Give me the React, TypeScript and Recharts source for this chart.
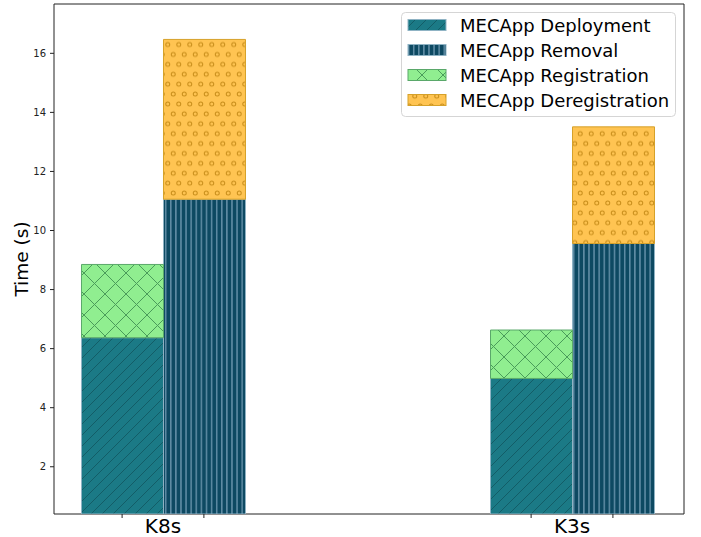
import {
  Bar,
  BarChart,
  Label,
  Legend,
  ReferenceArea,
  XAxis,
  YAxis,
} from 'recharts';

const categories = ['K8s', 'K3s'];
const deployment = [6.37, 4.99];
const registration = [2.48, 1.64];
const removal = [11.06, 9.56];
const deregistration = [5.41, 3.95];
const yTicks = [2, 4, 6, 8, 10, 12, 14, 16];

const BAR_WIDTH = 0.2;
const X_DOMAIN: [number, number] = [-0.2665, 1.2738];
const Y_DOMAIN: [number, number] = [0.4, 17.67];
const FONT = "'DejaVu Sans', sans-serif";

const chartData = categories.map((name, i) => ({
  pos: i,
  name,
  deployment: deployment[i],
  registration: registration[i],
  removal: removal[i],
  deregistration: deregistration[i],
}));

const groupTicks = categories.map((_, i) => i);
const barCenters = groupTicks.flatMap(p => [p - BAR_WIDTH / 2, p + BAR_WIDTH / 2]);
const xTicks = [...groupTicks, ...barCenters].sort((a, b) => a - b);

const series = [
  { key: 'deployment', name: 'MECApp Deployment', stack: 'left', fill: 'url(#hatchDeploy)', edge: '#8fb3c4' },
  { key: 'removal', name: 'MECApp Removal', stack: 'right', fill: 'url(#hatchRemoval)', edge: '#8fb3c4' },
  { key: 'registration', name: 'MECApp Registration', stack: 'left', fill: 'url(#hatchReg)', edge: '#5aa86a' },
  { key: 'deregistration', name: 'MECApp Deregistration', stack: 'right', fill: 'url(#hatchDereg)', edge: '#d6a12a' },
];

function Patterns() {
  return (
    <defs>
      <pattern id='hatchDeploy' patternUnits='userSpaceOnUse' width={11} height={11}>
        <rect width={11} height={11} fill='#1b7a86' />
        <path d='M0,11 L11,0 M-2.75,2.75 L2.75,-2.75 M8.25,13.75 L13.75,8.25' stroke='#135d67' strokeWidth={1} />
      </pattern>
      <pattern id='hatchRemoval' patternUnits='userSpaceOnUse' width={5.1} height={10}>
        <rect width={5.1} height={10} fill='#0d4962' />
        <line x1={2.5} y1={0} x2={2.5} y2={10} stroke='#8cb0c8' strokeWidth={1} />
      </pattern>
      <pattern id='hatchReg' patternUnits='userSpaceOnUse' width={21} height={21}>
        <rect width={21} height={21} fill='#90ee90' />
        <path d='M0,0 L21,21 M21,0 L0,21' stroke='#4a9c5a' strokeWidth={1} />
      </pattern>
      <pattern id='hatchDereg' patternUnits='userSpaceOnUse' width={11} height={19.8}>
        <rect width={11} height={19.8} fill='#ffc452' />
        <circle cx={2.75} cy={4.95} r={2} fill='none' stroke='#c98e1a' strokeWidth={1} />
        <circle cx={8.25} cy={14.85} r={2} fill='none' stroke='#c98e1a' strokeWidth={1} />
      </pattern>
    </defs>
  );
}

function LegendBox() {
  return (
    <svg width={275} height={105} style={{ display: 'block' }}>
      <rect x={0.5} y={0.5} width={274} height={104} rx={4} fill='rgba(255,255,255,0.8)' stroke='#d5d5d5' />
      {series.map((s, i) => {
        const cy = 13 + i * 25;
        return (
          <g key={s.key}>
            <rect x={7} y={cy - 5.5} width={38} height={11} fill={s.fill} stroke={s.edge} />
            <text x={59} y={cy} dominantBaseline='central' fontFamily={FONT} fontSize={18} fill='#000'>
              {s.name}
            </text>
          </g>
        );
      })}
    </svg>
  );
}

// group positions get a label, bar centres get a small tick mark
function XTick(props: any) {
  const { x, y, payload } = props;
  const v = payload.value;
  if (Number.isInteger(v)) {
    return (
      <text x={x} y={y + 19} textAnchor='middle' fontFamily={FONT} fontSize={20} fill='#000'>
        {categories[v]}
      </text>
    );
  }
  return <line x1={x} x2={x} y1={y} y2={y + 4} stroke='#222' strokeWidth={1} />;
}

export default function App() {
  return (
    <div style={{ position: 'absolute', left: 0, top: 0, background: '#fff' }}>
      <BarChart
        width={701}
        height={537}
        data={chartData}
        margin={{ top: 4, right: 17, left: 0, bottom: 0 }}
        barGap={0}
      >
        <Patterns />
        <XAxis
          type='number'
          dataKey='pos'
          domain={X_DOMAIN}
          allowDataOverflow
          ticks={xTicks}
          interval={0}
          tick={<XTick />}
          tickLine={false}
          tickSize={0}
          tickMargin={0}
          axisLine={false}
          height={23}
        />
        <YAxis
          type='number'
          domain={Y_DOMAIN}
          allowDataOverflow
          ticks={yTicks}
          interval={0}
          width={54}
          tickSize={4}
          tickMargin={4}
          tickLine={{ stroke: '#222' }}
          axisLine={false}
          tick={{ fontSize: 10, fill: '#222', fontFamily: FONT }}
        >
          <Label
            content={(props: any) => {
              const vb = props.viewBox || { x: 0, y: 4, width: 54, height: 510 };
              const cx = 28;
              const cy = vb.y + vb.height / 2;
              return (
                <text
                  x={cx}
                  y={cy}
                  transform={`rotate(-90 ${cx} ${cy})`}
                  textAnchor='middle'
                  fontFamily={FONT}
                  fontSize={18.5}
                  fill='#000'
                >
                  Time (s)
                </text>
              );
            }}
          />
        </YAxis>
        {series.map(s => (
          <Bar
            key={s.key}
            dataKey={s.key}
            name={s.name}
            stackId={s.stack}
            barSize={82}
            fill={s.fill}
            stroke={s.edge}
            strokeWidth={1}
            isAnimationActive={false}
          />
        ))}
        <ReferenceArea
          x1={X_DOMAIN[0]}
          x2={X_DOMAIN[1]}
          y1={Y_DOMAIN[0]}
          y2={Y_DOMAIN[1]}
          fill='none'
          stroke='#222'
          strokeWidth={1}
          ifOverflow='visible'
        />
        <Legend
          layout='vertical'
          align='center'
          verticalAlign='middle'
          wrapperStyle={{ left: 401, top: 12, width: 275, height: 105 }}
          content={() => <LegendBox />}
        />
      </BarChart>
    </div>
  );
}
